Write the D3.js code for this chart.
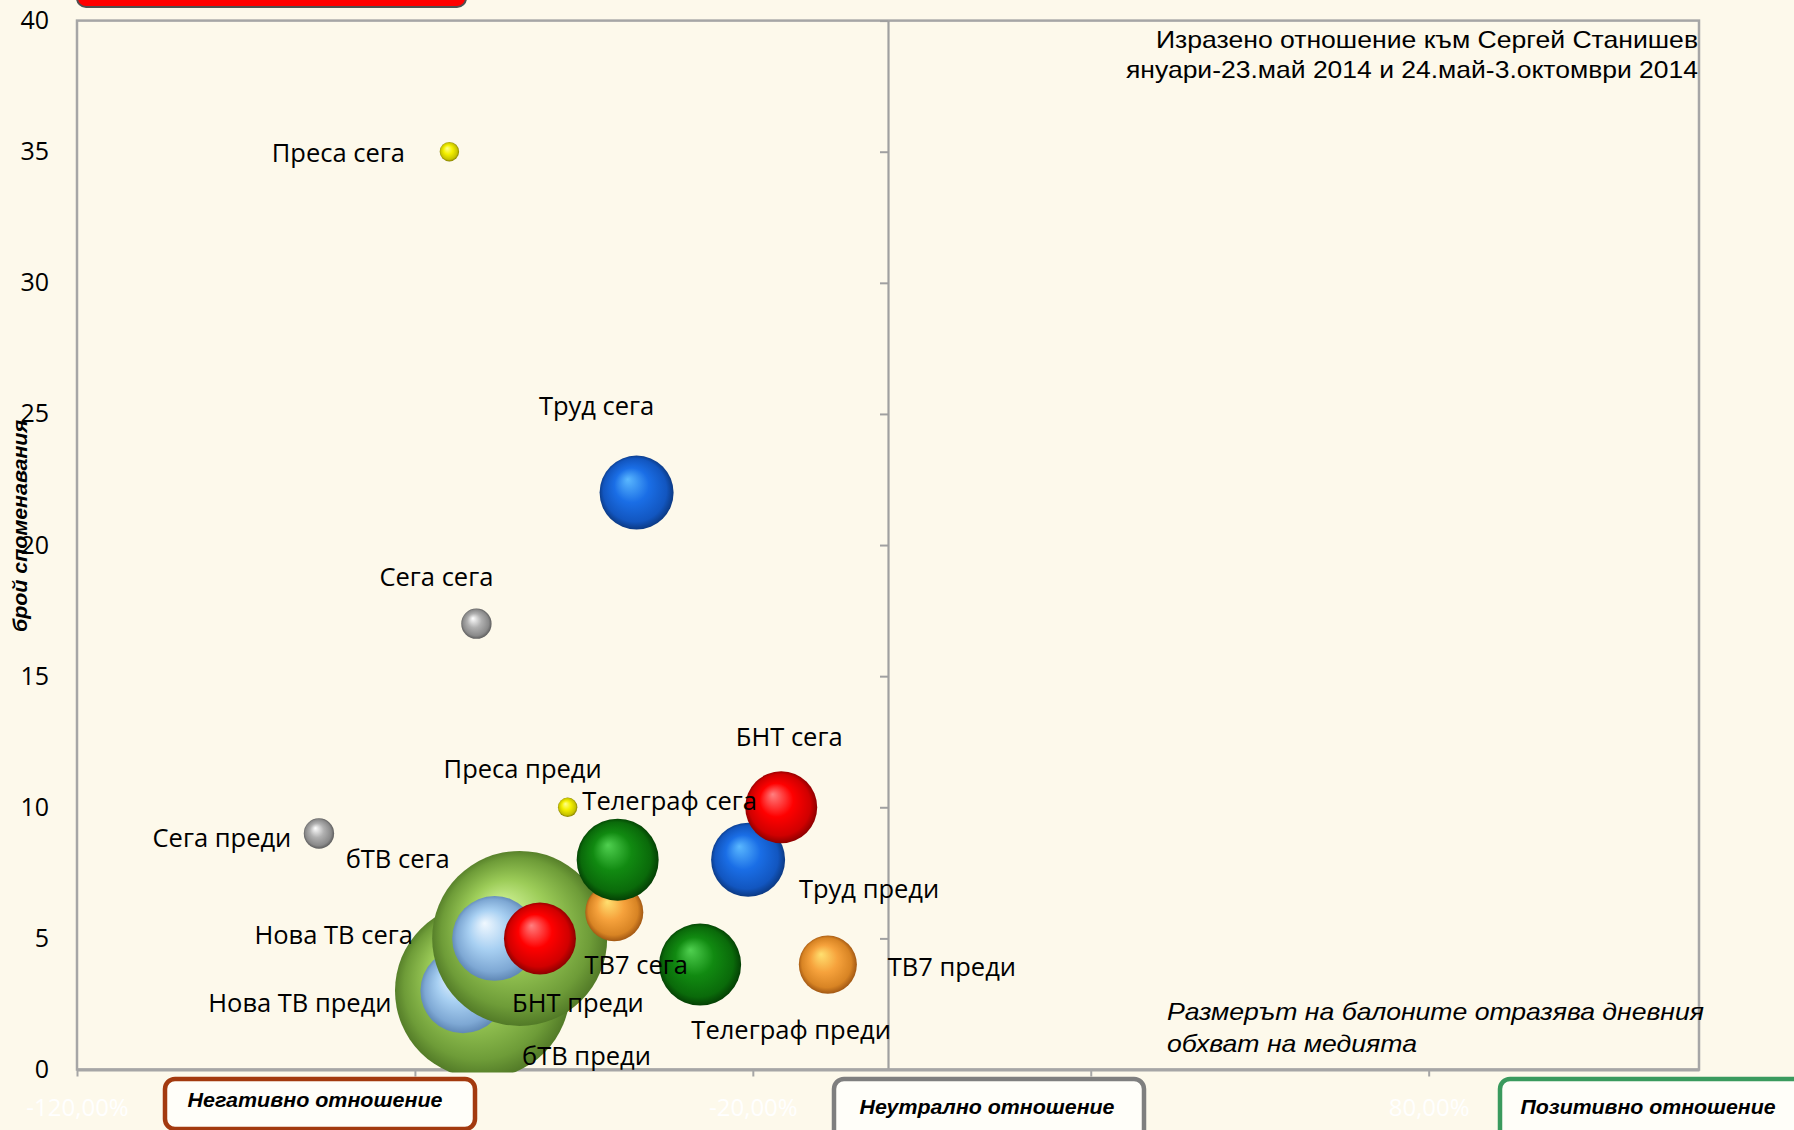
<!DOCTYPE html>
<html><head><meta charset="utf-8">
<script src="https://cdn.jsdelivr.net/npm/d3@7"></script>
<style>
html,body{margin:0;padding:0;background:#fdf9eb;}
svg{display:block;}
</style></head>
<body>
<script>
// ---------- DATA ----------
const names  = ["бТВ преди","Нова ТВ преди","бТВ сега","Нова ТВ сега","БНТ преди","ТВ7 сега","Телеграф сега","Телеграф преди","ТВ7 преди","Труд преди","БНТ сега","Труд сега","Сега сега","Сега преди","Преса сега","Преса преди"];
const media  = ["бТВ","Нова ТВ","бТВ","Нова ТВ","БНТ","ТВ7","Телеграф","Телеграф","ТВ7","Труд","БНТ","Труд","Сега","Сега","Преса","Преса"];
const attitude = [-0.600,-0.629,-0.545,-0.582,-0.515,-0.405,-0.400,-0.278,-0.089,-0.207,-0.158,-0.372,-0.609,-0.842,-0.649,-0.474];
const mentions = [3,3,5,5,5,6,8,4,4,8,10,22,17,9,35,10];
const reach    = [2600,613,2600,613,440,286,571,571,286,465,440,465,78,78,32,32];
const yTicks = [0,5,10,15,20,25,30,35,40];
const xTicks = [-1.2,-0.7,-0.2,0.3,0.8];
const titleLines = ["Изразено отношение към Сергей Станишев","януари-23.май 2014 и 24.май-3.октомври 2014"];
const noteLines = ["Размерът на балоните отразява дневния","обхват на медията"];
const yTitle = "брой споменавания";
const boxLabels = ["Негативно отношение","Неутрално отношение","Позитивно отношение"];

// ---------- STYLE / LAYOUT ----------
const W = 1794, H = 1130;
const L = 77, R = 1699, T = 20.6, B = 1069.5;
const colors = {
  "бТВ":     ["#d8f8a0","#9ccc58","#6e9c38","#4d7424"],
  "Нова ТВ": ["#f0f8ff","#a8d0f2","#7ea8d4","#5a82b0"],
  "БНТ":     ["#ff8080","#ff0000","#d00000","#800000"],
  "ТВ7":     ["#ffe070","#f6a23c","#d88424","#985010"],
  "Телеграф":["#50d050","#118a11","#0a6a0a","#033803"],
  "Труд":    ["#5ab8ff","#1a6ee6","#1256c0","#0a3478"],
  "Сега":    ["#ffffff","#b0b0b0","#8a8a8a","#555555"],
  "Преса":   ["#ffff90","#f4f000","#c8c400","#7a7400"]
};
// label offset of text centre from bubble centre (px)
const labelOffsets = [[104,64],[-163,11],[-122,-80],[-161,-4],[38,64],[22,52],[52,-60],[91,64],[124,1],[121,28],[8,-71],[-40,-88],[-40,-48],[-97,4],[-111,0],[-45,-39]];

const svg = d3.select("body").append("svg").attr("width",W).attr("height",H);
const defs = svg.append("defs");
Object.entries(colors).forEach(([k,c],i)=>{
  const g = defs.append("radialGradient").attr("id","g"+i)
    .attr("cx","50%").attr("cy","50%").attr("r","52%").attr("fx","38%").attr("fy","32%");
  g.append("stop").attr("offset","0%").attr("stop-color",c[0]);
  g.append("stop").attr("offset","45%").attr("stop-color",c[1]);
  g.append("stop").attr("offset","82%").attr("stop-color",c[2]);
  g.append("stop").attr("offset","100%").attr("stop-color",c[3]);
  colors[k].grad = "url(#g"+i+")";
});
defs.append("clipPath").attr("id","plotclip").append("rect")
  .attr("x",L).attr("y",T).attr("width",R-L).attr("height",B-T+3);

svg.append("rect").attr("width",W).attr("height",H).attr("fill","#fdf9eb");

const x = d3.scaleLinear().domain([-1.2,1.2]).range([L,R]);
const y = d3.scaleLinear().domain([0,40]).range([B,T]);
const r = d3.scaleSqrt().domain([0,d3.max(reach)]).range([0,87.5]);

// plot border
svg.append("rect").attr("x",L).attr("y",T).attr("width",R-L).attr("height",B-T)
  .attr("fill","none").attr("stroke","#a6a6a6").attr("stroke-width",2.5);

// y labels (left)
const yAx = svg.append("g").attr("transform",`translate(${L},0)`)
  .call(d3.axisLeft(y).tickValues(yTicks).tickSize(0).tickPadding(28));
yAx.select(".domain").remove();
yAx.selectAll("text").attr("font-family","Open Sans").attr("font-size",25).attr("fill","#000");

// vertical axis at x = 0 (tick marks)
const yAx2 = svg.append("g").attr("transform",`translate(${x(0)},0)`)
  .call(d3.axisLeft(y).tickValues(yTicks).tickSize(8).tickSizeOuter(0).tickFormat(""));
yAx2.select(".domain").attr("stroke","#a0a0a0").attr("stroke-width",2.2);
yAx2.selectAll(".tick line").attr("stroke","#a0a0a0").attr("stroke-width",2);

// x axis
const loc = d3.formatLocale({decimal:",",thousands:" ",grouping:[3],currency:["",""],minus:"-"});
const fmt = loc.format(".2%");
const xAx = svg.append("g").attr("transform",`translate(0,${B})`)
  .call(d3.axisBottom(x).tickValues(xTicks).tickSize(7).tickSizeOuter(0).tickPadding(22).tickFormat(fmt));
xAx.select(".domain").attr("stroke","#a6a6a6").attr("stroke-width",3);
xAx.selectAll(".tick line").attr("stroke","#a6a6a6").attr("stroke-width",2);
xAx.selectAll("text").attr("font-family","Open Sans").attr("font-size",24).attr("fill","#ffffff");

// bubbles
const pts = names.map((n,i)=>({n, m:media[i], x:attitude[i], y:mentions[i], s:reach[i], off:labelOffsets[i]}));
svg.append("g").attr("clip-path","url(#plotclip)").selectAll("circle").data(pts).join("circle")
  .attr("cx",d=>x(d.x)).attr("cy",d=>y(d.y)).attr("r",d=>r(d.s))
  .attr("fill",d=>colors[d.m].grad);

// labels
svg.append("g").selectAll("text").data(pts).join("text")
  .attr("x",d=>x(d.x)+d.off[0]).attr("y",d=>y(d.y)+d.off[1])
  .attr("text-anchor","middle").attr("dominant-baseline","central")
  .attr("font-family","Open Sans").attr("font-size",25.5).attr("fill","#000")
  .text(d=>d.n);

// title
svg.append("g").selectAll("text").data(titleLines).join("text")
  .attr("x",R-1).attr("y",(d,i)=>48+i*29.5).attr("text-anchor","end")
  .attr("font-family","Liberation Sans").attr("font-size",24).attr("fill","#000")
  .attr("textLength",(d,i)=>i?572:542).attr("lengthAdjust","spacingAndGlyphs")
  .text(d=>d);

// note
svg.append("g").selectAll("text").data(noteLines).join("text")
  .attr("x",1167).attr("y",(d,i)=>1020+i*32).attr("text-anchor","start")
  .attr("font-family","Liberation Sans").attr("font-style","italic").attr("font-size",24).attr("fill","#000")
  .attr("textLength",(d,i)=>i?250:537).attr("lengthAdjust","spacingAndGlyphs")
  .text(d=>d);

// y title
svg.append("text").attr("transform","translate(27,526) rotate(-90)")
  .attr("text-anchor","middle").attr("font-family","Liberation Sans")
  .attr("font-weight","bold").attr("font-style","italic").attr("font-size",20)
  .attr("textLength",212).attr("lengthAdjust","spacingAndGlyphs").text(yTitle);

// top red box
svg.append("rect").attr("x",77).attr("y",-30).attr("width",389).attr("height",37).attr("rx",9)
  .attr("fill","#ff0000").attr("stroke","#505050").attr("stroke-width",2);

// bottom boxes
const boxes = [
  {x:165,y:1079,w:310,h:50,stroke:"#a33a0f",tx:315,ty:1107},
  {x:834,y:1079,w:310,h:70,stroke:"#7f7f7f",tx:987,ty:1114},
  {x:1500,y:1079,w:320,h:70,stroke:"#3a9a5e",tx:1648,ty:1114}
];
const bg = svg.append("g").selectAll("g").data(boxes).join("g");
bg.append("rect").attr("x",d=>d.x).attr("y",d=>d.y).attr("width",d=>d.w).attr("height",d=>d.h)
  .attr("rx",10).attr("fill","#fffef9").attr("stroke",d=>d.stroke).attr("stroke-width",4.5);
bg.append("text").attr("x",d=>d.tx).attr("y",d=>d.ty).attr("text-anchor","middle")
  .attr("font-family","Liberation Sans").attr("font-weight","bold").attr("font-style","italic")
  .attr("font-size",20).attr("textLength",255).attr("lengthAdjust","spacingAndGlyphs")
  .text((d,i)=>boxLabels[i]);
</script>
</body></html>
